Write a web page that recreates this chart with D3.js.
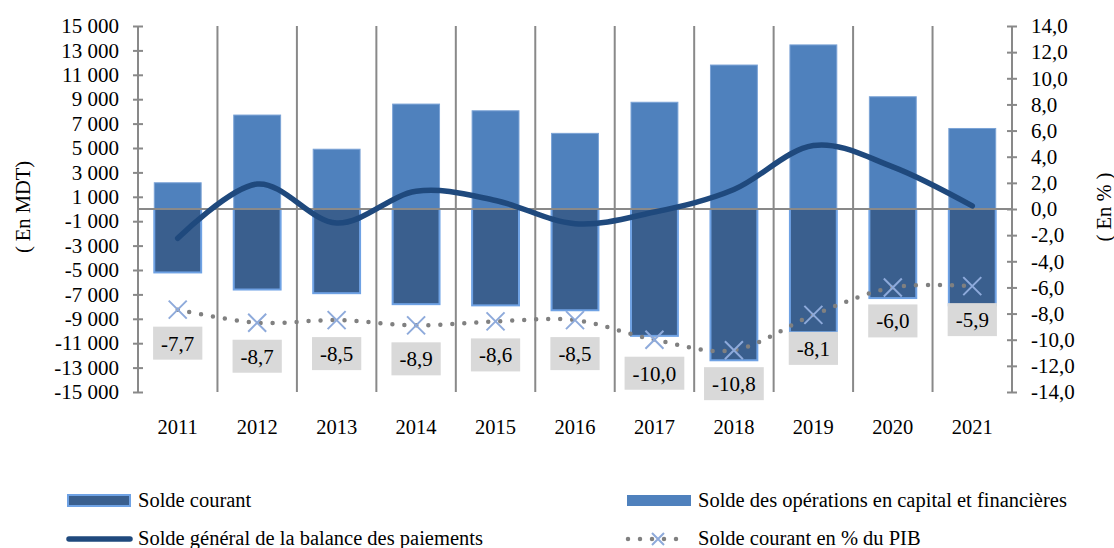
<!DOCTYPE html>
<html>
<head>
<meta charset="utf-8">
<script src="https://cdn.jsdelivr.net/npm/d3@7"></script>
<style>
  body { margin: 0; background: #fff; }
  svg text { font-family: "Liberation Serif", "Times New Roman", serif; fill: #000; }
</style>
</head>
<body>
<div class="chart"></div>
<script>
// données (MDT et % du PIB)
const years = ["2011", "2012", "2013", "2014", "2015", "2016", "2017", "2018", "2019", "2020", "2021"];
const soldeCourant = [-5200, -6600, -6900, -7800, -7900, -8300, -10400, -12400, -10100, -7300, -7900];
const soldeCapital = [2150, 7700, 4900, 8600, 8050, 6200, 8750, 11800, 13450, 9200, 6600];
const soldeGeneral = [-2400, 2050, -1150, 1450, 700, -1200, -250, 1600, 5200, 3450, 250];
const soldePib = [-7.7, -8.7, -8.5, -8.9, -8.6, -8.5, -10.0, -10.8, -8.1, -6.0, -5.9];
const leftTicks = d3.range(-15000, 15001, 2000);
const rightTicks = d3.range(-14, 14.01, 2);

const svgWidth = 1114;
const svgHeight = 548;
const plotLeft = 138, plotRight = 1012, plotTop = 26, plotBottom = 392;
const grey = "#898989";

const svg = d3.select(".chart")
    .append("svg")
    .attr("width", svgWidth)
    .attr("height", svgHeight);

const fr = d3.formatLocale({decimal: ",", thousands: " ", grouping: [3], currency: ["", ""], minus: "-"});
const fmtLeft = fr.format(",.0f");
const fmtRight = fr.format(".1f");

const x = d3.scaleBand().domain(years).range([plotLeft, plotRight]);
const yL = d3.scaleLinear().domain([-15000, 15000]).range([plotBottom, plotTop]);
const yR = d3.scaleLinear().domain([-14, 14]).range([plotBottom, plotTop]);
const barW = x.bandwidth() * 0.59;
const cx = d => x(d) + x.bandwidth() / 2;

// grille verticale entre les années
svg.append("g")
    .selectAll("line")
    .data(years.slice(1))
    .join("line")
    .attr("x1", d => x(d)).attr("x2", d => x(d))
    .attr("y1", plotTop).attr("y2", plotBottom)
    .attr("stroke", grey).attr("stroke-width", 2);

// barres
svg.append("g")
    .selectAll("rect")
    .data(years)
    .join("rect")
    .attr("x", d => cx(d) - barW / 2)
    .attr("width", barW)
    .attr("y", (d, i) => yL(soldeCapital[i]))
    .attr("height", (d, i) => yL(0) - yL(soldeCapital[i]))
    .attr("fill", "#4f81bd")
    .attr("stroke", "#7ba3d6").attr("stroke-width", 1);

svg.append("g")
    .selectAll("rect")
    .data(years)
    .join("rect")
    .attr("x", d => cx(d) - barW / 2)
    .attr("width", barW)
    .attr("y", yL(0))
    .attr("height", (d, i) => yL(soldeCourant[i]) - yL(0))
    .attr("fill", "#3a5f8e")
    .attr("stroke", "#6fa2e4").attr("stroke-width", 2);

// ligne du zéro
svg.append("line")
    .attr("x1", plotLeft).attr("x2", plotRight)
    .attr("y1", yL(0)).attr("y2", yL(0))
    .attr("stroke", grey).attr("stroke-width", 2);

// axes
const axL = svg.append("g")
    .attr("transform", `translate(${plotLeft},0)`)
    .call(d3.axisLeft(yL).tickValues(leftTicks).tickFormat(fmtLeft).tickSize(5).tickPadding(14));
const axR = svg.append("g")
    .attr("transform", `translate(${plotRight},0)`)
    .call(d3.axisRight(yR).tickValues(rightTicks).tickFormat(fmtRight).tickSize(5).tickPadding(14));
[axL, axR].forEach(ax => {
    ax.select(".domain").attr("stroke", grey).attr("stroke-width", 2).attr("d", `M0,${plotTop}V${plotBottom}`);
    ax.selectAll(".tick line").attr("x1", -5).attr("x2", 5).attr("stroke", grey).attr("stroke-width", 2);
    ax.selectAll(".tick text").attr("font-size", 21).attr("font-family", "Liberation Serif");
});

// années
svg.append("g")
    .selectAll("text")
    .data(years)
    .join("text")
    .attr("x", d => cx(d))
    .attr("y", 434)
    .attr("text-anchor", "middle")
    .attr("font-size", 20.5)
    .text(d => d);

// titres des axes
svg.append("text")
    .attr("transform", `translate(30,207) rotate(-90)`)
    .attr("text-anchor", "middle")
    .attr("font-size", 20.5)
    .text("( En MDT)");
svg.append("text")
    .attr("transform", `translate(1111,207) rotate(-90)`)
    .attr("text-anchor", "middle")
    .attr("font-size", 20.5)
    .text("( En % )");

// solde général (courbe lissée)
const lineG = d3.line()
    .x((d, i) => cx(years[i]))
    .y(d => yL(d))
    .curve(d3.curveCardinal.tension(0));
svg.append("path")
    .datum(soldeGeneral)
    .attr("d", lineG)
    .attr("fill", "none")
    .attr("stroke", "#1f497d")
    .attr("stroke-width", 5.5)
    .attr("stroke-linecap", "round");

// solde courant en % du PIB
const lineP = d3.line()
    .x((d, i) => cx(years[i]))
    .y(d => yR(d))
    .curve(d3.curveCardinal.tension(0));
svg.append("path")
    .datum(soldePib)
    .attr("d", lineP)
    .attr("fill", "none")
    .attr("stroke", "#808080")
    .attr("stroke-width", 4.5)
    .attr("stroke-linecap", "round")
    .attr("stroke-dasharray", "0 12");

const cross = (g, s) => g.append("path")
    .attr("d", `M${-s},${-s}L${s},${s}M${-s},${s}L${s},${-s}`)
    .attr("stroke", "#8eaadb")
    .attr("stroke-width", 2)
    .attr("fill", "none");

svg.append("g")
    .selectAll("g")
    .data(soldePib)
    .join("g")
    .attr("transform", (d, i) => `translate(${cx(years[i])},${yR(d)})`)
    .each(function () { cross(d3.select(this), 9); });

// étiquettes des valeurs
const labels = svg.append("g")
    .selectAll("g")
    .data(soldePib)
    .join("g")
    .attr("transform", (d, i) => `translate(${cx(years[i])},${yR(d) + 17})`);
labels.append("rect").attr("fill", "#d9d9d9").attr("height", 33);
labels.append("text")
    .attr("y", 24)
    .attr("text-anchor", "middle")
    .attr("font-size", 21)
    .text(d => fmtRight(d));
labels.each(function () {
    const g = d3.select(this);
    const w = g.select("text").node().getComputedTextLength() + 16;
    g.select("rect").attr("x", -w / 2).attr("width", w);
});

// légende
const leg = svg.append("g").attr("font-size", 20.5);
leg.append("rect").attr("x", 68).attr("y", 495).attr("width", 62).attr("height", 11)
    .attr("fill", "#3a5f8e").attr("stroke", "#6fa2e4").attr("stroke-width", 2);
leg.append("text").attr("x", 138).attr("y", 507).text("Solde courant");

leg.append("rect").attr("x", 627).attr("y", 495).attr("width", 64).attr("height", 11)
    .attr("fill", "#4f81bd");
leg.append("text").attr("x", 698).attr("y", 507).text("Solde des opérations en capital et financières");

leg.append("line").attr("x1", 69).attr("x2", 130).attr("y1", 539).attr("y2", 539)
    .attr("stroke", "#1f497d").attr("stroke-width", 5.5).attr("stroke-linecap", "round");
leg.append("text").attr("x", 138).attr("y", 545).text("Solde général de la balance des paiements");

leg.append("line").attr("x1", 628).attr("x2", 688).attr("y1", 539).attr("y2", 539)
    .attr("stroke", "#808080").attr("stroke-width", 4.5).attr("stroke-linecap", "round")
    .attr("stroke-dasharray", "0 12");
cross(leg.append("g").attr("transform", "translate(658,539)"), 6);
leg.append("text").attr("x", 698).attr("y", 545).text("Solde courant en % du PIB");
</script>
</body>
</html>
